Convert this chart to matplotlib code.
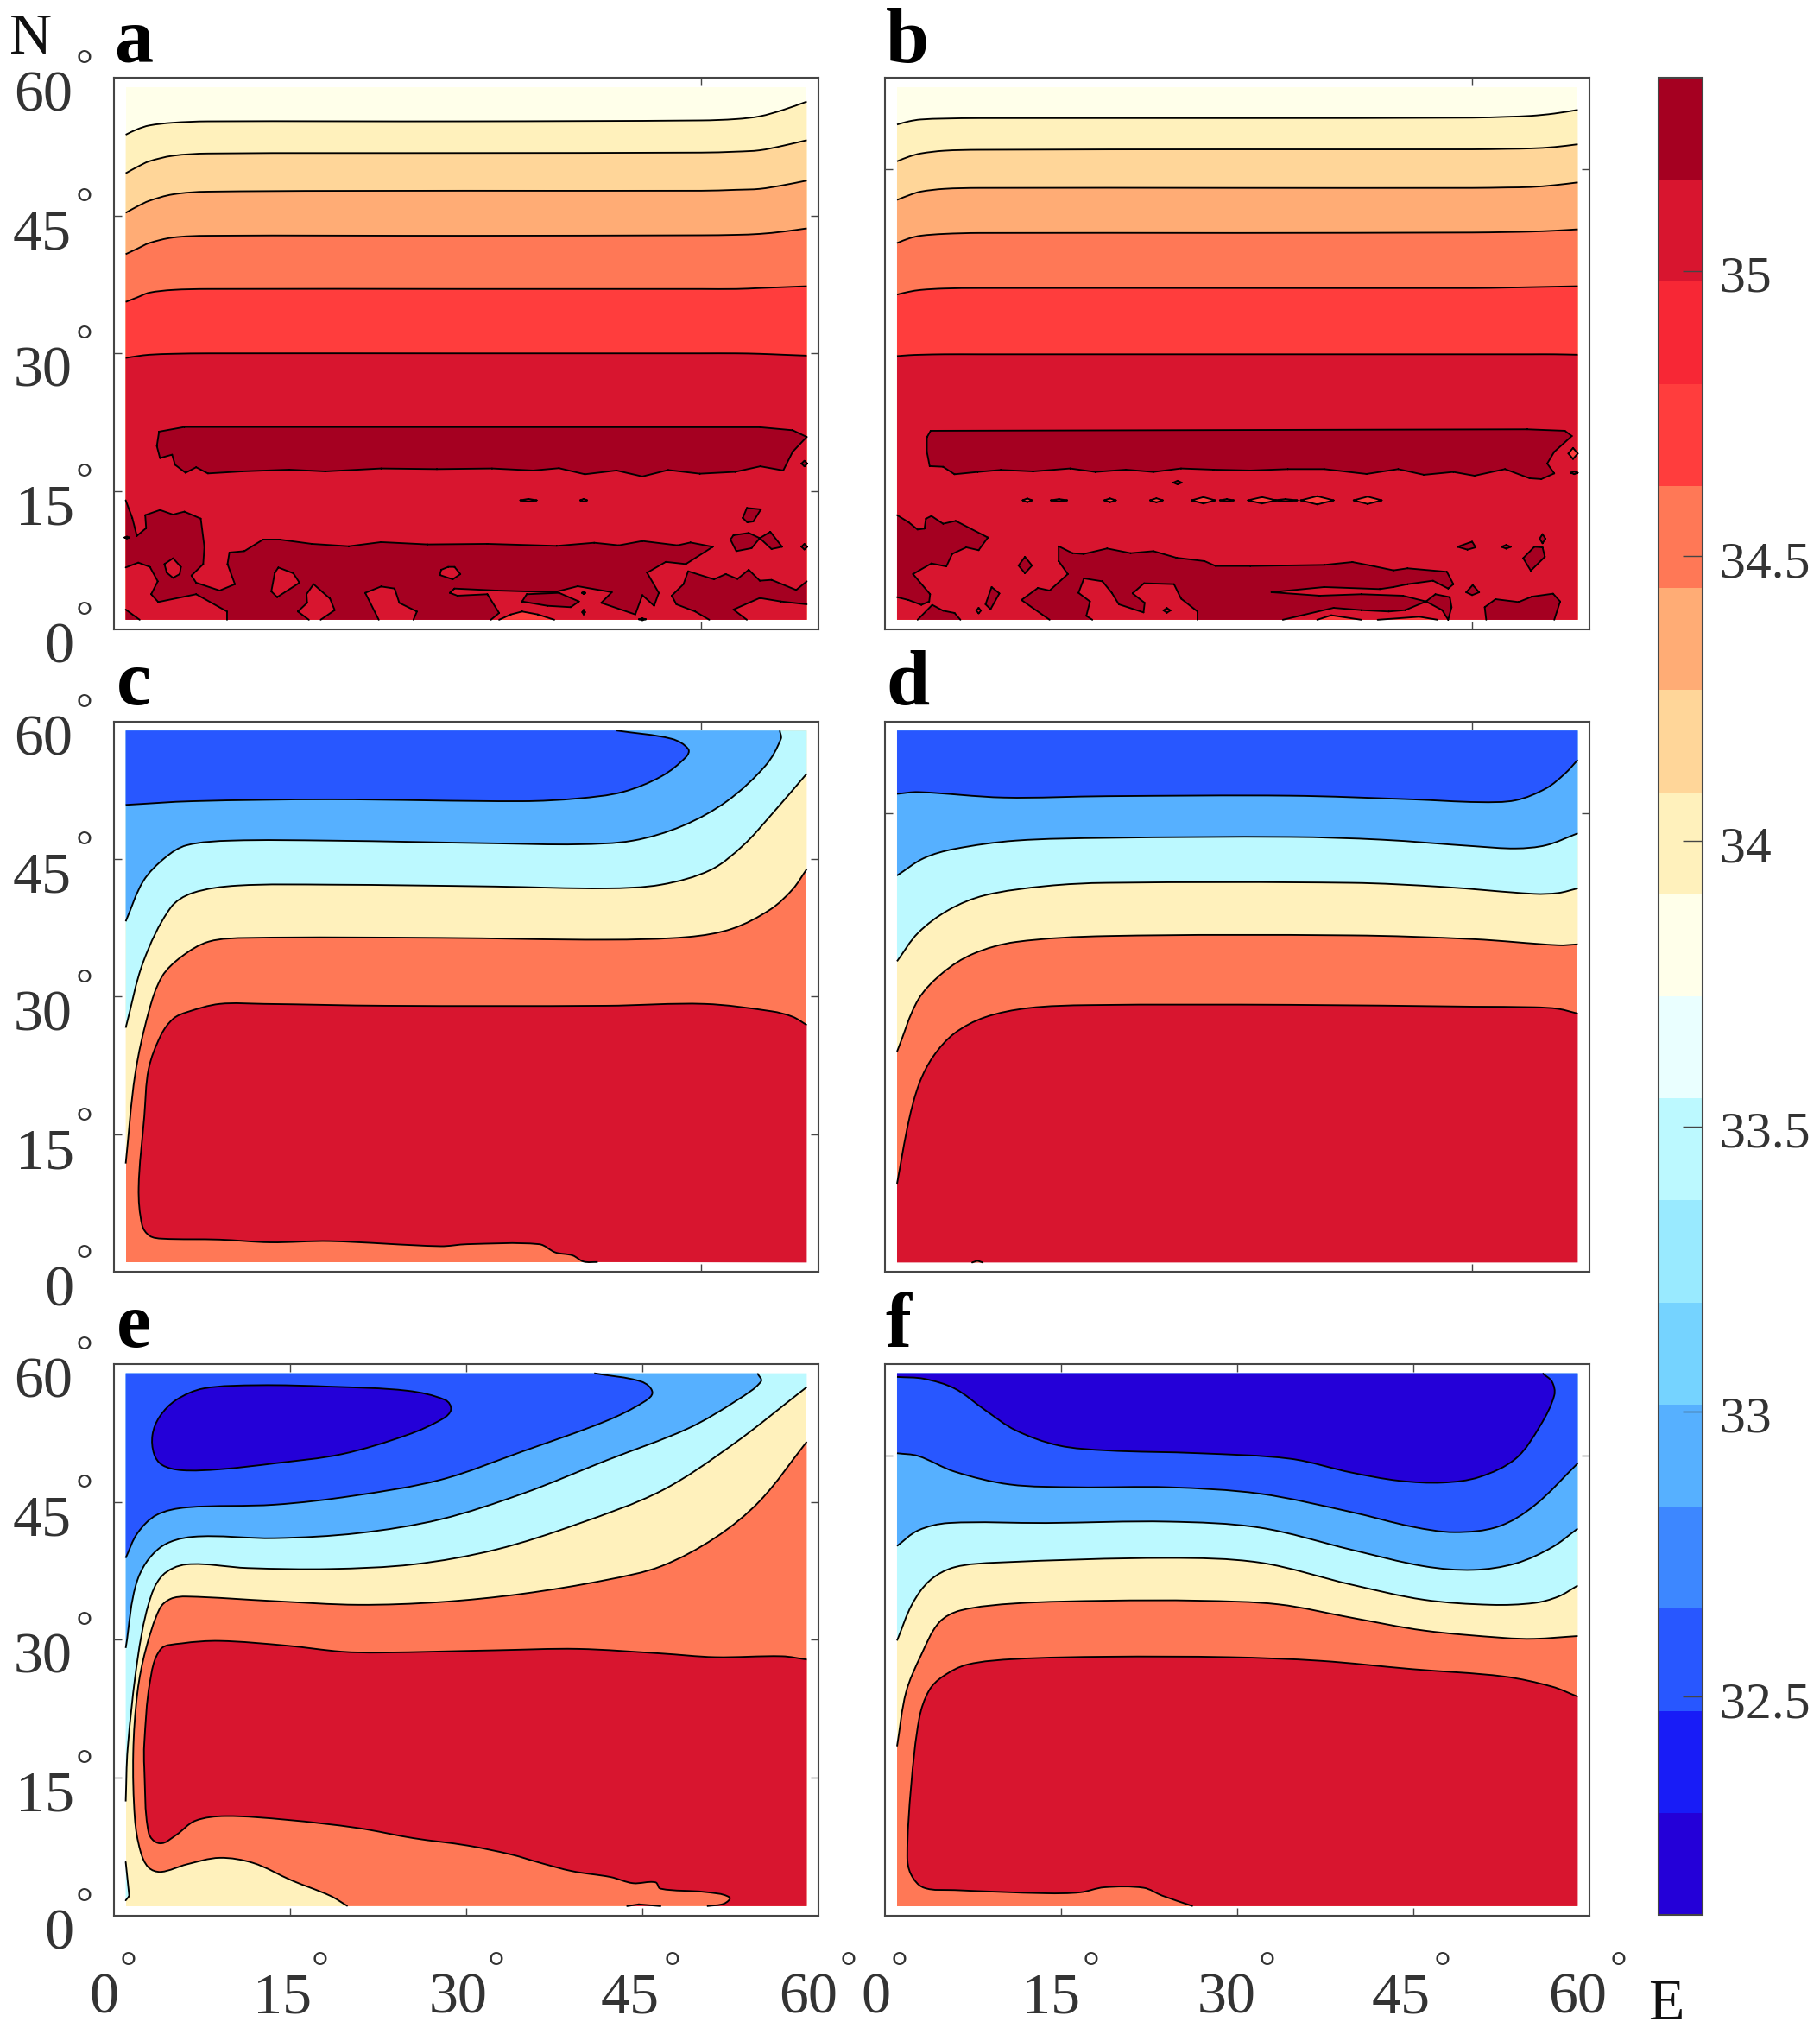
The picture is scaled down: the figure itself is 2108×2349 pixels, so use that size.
import numpy as np
import matplotlib
matplotlib.use("Agg")
import matplotlib.pyplot as plt
from matplotlib.path import Path
from matplotlib.patches import PathPatch
from matplotlib.colors import ListedColormap, BoundaryNorm
from matplotlib.cm import ScalarMappable
from matplotlib.transforms import ScaledTranslation

plt.rcParams['font.family'] = ['Liberation Serif', 'DejaVu Serif']

# ---- colour scale (bottom to top) -------------------------------------
COLORS = ['#2400D8', '#181CF7', '#2857FF', '#3D87FF', '#56B0FF', '#75D3FF',
          '#99EAFF', '#BCF9FF', '#EAFFFF', '#FFFFEA', '#FFF1BC', '#FFD699',
          '#FFAC75', '#FF7856', '#FF3D3D', '#F72735', '#D8152F', '#A50021']
LEVELS = [32.117, 32.296, 32.475, 32.654, 32.833, 33.012, 33.191, 33.370, 33.549,
          33.728, 33.907, 34.086, 34.265, 34.444, 34.623, 34.802, 34.981, 35.160, 35.339]
CB_TICKS = [32.5, 33, 33.5, 34, 34.5, 35]
CB_LABELS = ['32.5', '33', '33.5', '34', '34.5', '35']
DBLUE, BLUE, SKY, CYAN, LYEL, YEL, TAN, PEACH, ORANGE, RED, CRIM, DARK = (
    '#2400D8', '#2857FF', '#56B0FF', '#BCF9FF', '#FFFFEA', '#FFF1BC',
    '#FFD699', '#FFAC75', '#FF7856', '#FF3D3D', '#D8152F', '#A50021')

# ---- panel a : isolines, lat at each lon ------------------------------
BAND_LON = [1, 2, 3, 5, 8, 30, 50, 53, 55, 57, 59]
A_L1 = [53.8, 54.4, 54.8, 55.1, 55.25, 55.25, 55.35, 55.5, 55.8, 56.5, 57.4]
A_L2 = [49.6, 50.3, 50.9, 51.5, 51.75, 51.8, 51.85, 51.95, 52.1, 52.6, 53.2]
A_L3 = [45.3, 46.0, 46.6, 47.3, 47.6, 47.7, 47.7, 47.8, 47.9, 48.3, 48.8]
A_L4 = [40.8, 41.4, 42.0, 42.6, 42.8, 42.8, 42.85, 42.9, 43.0, 43.25, 43.6]
A_L5 = [35.6, 36.1, 36.6, 36.9, 37.0, 37.0, 37.0, 37.0, 37.1, 37.2, 37.3]
A_L6 = [29.5, 29.7, 29.85, 29.95, 30.0, 30.0, 30.0, 30.0, 29.95, 29.85, 29.75]

A_BAND = [(3.84,21.48),(6.0,21.98),(55.05,21.95),(57.8,21.63),(59,20.9),(57.8,19.28),(57,17.25),
          (55.05,17.7),(52.9,17.1),(49.9,16.9),(47.2,17.3),(45,16.6),(42.8,17.25),(40.1,16.84),
          (37.9,17.5),(35.7,17.25),(32.2,17.47),(27.5,17.4),(22.75,17.47),(18,17.15),(14.9,17.34),
          (10.9,17.15),(8,16.93),(7,17.6),(6.1,17),(5.2,17.87),(4.95,18.97),(3.92,18.6),(3.65,19.9)]
A_MAIN = [(1,14.0),(1.56,12.08),(1.95,10.13),(2.74,10.98),(2.66,12.39),(3.92,12.95),(5.03,12.45),
          (6.0,12.77),(7.39,12.01),(7.7,8.94),(7.6,7.06),(6.6,5.81),(7.0,5.03),(9.0,4.18),(10.3,4.87),
          (9.67,7.06),(9.83,8.32),(11.1,8.47),(12.7,9.73),(14.1,9.73),(16.84,9.26),(20,9.0),(22.75,9.45),
          (26.7,9.2),(31.8,9.26),(37.7,9.04),(40.9,9.38),(43,9.1),(45,9.57),(48,9.1),(49.1,9.41),(51,8.94),
          (48.7,7.06),(47,7.3),(45.4,6.12),(46.4,3.93),(46,2.52),(45,3.68),(44.4,1.58),(41.5,2.84),(42.4,4.0),
          (39.5,4.65),(37.5,4.0),(32.6,4.18),(29,4.4),(28.6,3.93),(29.25,3.62),(31.8,3.78),(32.8,1.74),(32.1,1),
          (25.5,1),(25.8,1.9),(24.3,2.84),(23.9,4.4),(22.75,4.62),(21.4,3.93),(22.55,1),(17.6,1),(18.8,2.05),
          (18.4,3.3),(17,4.87),(16.4,3.78),(16.45,2.84),(15.66,1.9),(16.6,1),(9.63,1),(9.63,1.9),(7,3.78),
          (3.77,2.93),(3.17,3.78),(3.73,5.18),(3.06,6.75),(2.07,7.22),(1,6.69)]
A_HOLES = [[(5.03,7.69),(5.7,6.75),(5.6,5.97),(5.03,5.56),(4.5,6.12),(4.3,7.06)],
           [(14,6.69),(15.27,6.06),(15.8,5.03),(13.9,3.46),(13.4,4.09),(13.7,6.12)],
           [(28.46,6.75),(29,6.75),(29.5,5.97),(28.85,5.4),(27.75,5.87),(27.87,6.44)]]
A_BLOBS = [[(1,2.11),(2.19,1),(1,1)],
           [(48.9,6.28),(51.1,5.4),(52.1,5.97),(53.1,5.44),(54.06,6.44),(55,5.25),(56,5.34),(58.1,4.24),
            (59,5.18),(59,2.68),(56.8,2.99),(55,3.37),(52.76,2.11),(53.9,1),(50.7,1),(49.5,1.9),(47.9,2.68),
            (47.5,3.62),(48.5,4.87)],
           [(34.76,2.99),(35.15,3.78),(37.9,3.93),(39.6,2.99),(38.9,2.37),(36.9,2.52)],
           [(53.9,13.17),(55.1,13.02),(54.45,11.7),(53.94,11.6),(53.55,12.08)],
           [(52.76,10.2),(54.06,10.45),(55,9.88),(54.3,8.79),(53,8.47),(52.5,9.73)],
           [(55,9.88),(55.9,10.57),(56.9,8.94),(56,8.7)]]
A_PATCH = [(32.8,1),(33.8,1.58),(34.76,1.9),(36.1,1.58),(37.5,1)]
A_DOTS = [(35.3,14.0,0.7,0.15),(40,14.0,0.3,0.15),(1.1,9.95,0.2,0.1),(40,3.93,0.15,0.12),
          (40,1.83,0.12,0.25),(58.8,18,0.25,0.3),(58.8,8.95,0.25,0.3),(45,1.05,0.3,0.1)]

# ---- panel b ----------------------------------------------------------
B_L1 = [54.9, 55.25, 55.45, 55.55, 55.6, 55.6, 55.65, 55.75, 55.85, 56.1, 56.5]
B_L2 = [50.9, 51.4, 51.75, 52.05, 52.15, 52.2, 52.2, 52.25, 52.3, 52.45, 52.75]
B_L3 = [46.7, 47.2, 47.6, 47.9, 48.0, 48.0, 48.0, 48.05, 48.1, 48.3, 48.6]
B_L4 = [42.0, 42.5, 42.8, 43.0, 43.1, 43.1, 43.15, 43.2, 43.25, 43.35, 43.5]
B_L5 = [36.4, 36.7, 36.9, 37.05, 37.1, 37.1, 37.1, 37.15, 37.2, 37.25, 37.3]
B_L6 = [29.7, 29.8, 29.85, 29.9, 29.9, 29.9, 29.9, 29.9, 29.9, 29.9, 29.85]

B_BAND = [(3.86,21.57),(3.54,20.85),(3.54,19.28),(3.78,17.72),(4.92,17.65),(5.9,16.84),(7.87,17.09),
          (9.84,17.31),(12.6,17.15),(15.75,17.47),(17.9,17.09),(20.5,17.34),(22.84,17.09),(25.2,17.47),
          (27.96,17.34),(31.1,17.25),(34.3,17.4),(37.4,17.4),(41,16.87),(43.7,17.4),(45.9,16.78),(48.4,17.09),
          (50.2,16.68),(52.8,17.4),(54.9,16.4),(55.9,16.31),(57,16.93),(56.4,18),(57,19.28),(58.5,21),
          (57.9,21.57),(54.7,21.73)]
B_LEFT = [(1,12.39),(2,11.6),(2.75,10.82),(3.34,10.92),(3.46,12.0),(3.93,12.3),(4.92,11.45),(6,11.76),
          (8.74,9.95),(7.95,8.57),(6.9,8.88),(5.7,8.17),(5.2,6.8),(3.93,7.13),(2.36,5.97),(3.82,3.78),
          (3.74,2.99),(3.07,2.62),(1.97,3.15),(1,3.46)]
B_MAIN = [(14.77,9.0),(15.95,8.25),(16.9,8.16),(18.9,8.76),(20.9,8.25),(22.84,8.47),(24.8,7.75),(27.2,7.38),
          (28.15,6.85),(31.1,6.85),(37.4,6.97),(39.8,7.28),(41.35,6.9),(43.3,6.38),(44.5,6.6),(47.85,6.22),
          (48.4,4.87),(47.96,4.4),(46.67,5.25),(44.5,4.87),(43.3,4.56),(42.14,4.34),(37.4,4.56),(32.9,4.0),
          (37,3.62),(40.56,3.78),(44.1,3.62),(46.07,2.99),(44.3,2.05),(42.9,1.9),(40.56,2.05),(38.2,2.3),
          (33.87,1),(26.6,1),(26.6,1.9),(25.2,3.3),(24.6,4.87),(22.05,4.97),(21.07,3.87),(22.1,2.84),(22,1.8),
          (19.9,2.68),(19.3,3.93),(18.5,5.18),(16.93,5.5),(16.46,3.93),(17.44,2.99),(17.13,1.43),(17.64,1),
          (14,1),(11.6,3.15),(13,4.46),(14,4.18),(15.55,5.97),(14.77,7.38)]
B_BLOBS = [[(2.75,1),(4,2.62),(4.92,1.99),(5.9,1.74),(6.4,1)],
           [(11.9,7.85),(12.5,6.9),(11.9,6.06),(11.35,6.9)],
           [(9.06,4.56),(9.72,3.87),(8.97,2.15),(8.54,2.68)],
           [(46.07,2.99),(46.87,3.78),(48.1,3.46),(48.25,2.37),(47.96,1),(47.45,2.05)],
           [(51.2,1),(51.07,2.37),(52,3.24),(53.96,2.93),(55.1,3.52),(56.9,3.84),(57.5,2.99),(57,1)],
           [(48.76,8.94),(50,9.5),(50.3,8.88),(49.6,8.63)],
           [(55.3,8.94),(56,8.88),(56.2,7.85),(55,6.34),(54.35,7.7)],
           [(50.05,4.78),(50.6,3.99),(50,3.68),(49.5,3.99)]]
B_PATCHES = [[(36.8,1),(38,1.49),(40.56,1)], [(41.95,1),(45.5,1.33),(47.06,1)]]
B_DARK_DOTS = [(14.8,14.0,0.7,0.13),(29.1,14.0,0.6,0.13),(34.1,14.0,1.0,0.13),(24.9,15.93,0.35,0.2),
               (58.7,17,0.3,0.15),(52.9,8.94,0.4,0.2),(56,9.82,0.25,0.5)]
B_LIGHT_DOTS = [(12.1,14.0,0.4,0.2),(19.15,14.0,0.5,0.2),(23.1,14.0,0.55,0.22),(27.1,14.0,1.0,0.35),
                (32.1,14.0,1.2,0.35),(36.8,14.0,1.4,0.45),(41.1,14.0,1.2,0.4),(58.6,19.1,0.4,0.6)]
B_HOLE_DOTS = [(7.95,2.0,0.2,0.3),(24,2.02,0.3,0.25)]

# ---- panel c ----------------------------------------------------------
C_I1 = [(1,50.9),(6.7,51.3),(18.4,51.5),(34.8,51.3),(39.5,51.6),(43.3,52.3),(46.6,54),(48.7,56.1),
        (48.9,57),(47.5,58.1),(42.8,59)]
C_I2 = [(1,38.2),(2.5,42.6),(4.36,45.15),(6.2,46.5),(10,47),(18.4,47),(32.5,46.7),(39.5,46.6),(44.2,47),
        (48.4,48.6),(52.2,51.3),(55.5,55.2),(56.8,58.1),(56.7,59)]
C_I3 = [(1,26.6),(2.5,33.8),(4.83,39.7),(6.7,41.3),(10.5,42.1),(18.4,42.2),(32.5,42),(41.9,41.8),(46.6,42.2),
        (50.8,43.8),(53.6,46.5),(55.9,49.7),(59,54.3)]
C_I4 = [(1,11.8),(1.8,21.5),(2.95,28.3),(4.1,32.2),(5.8,34.4),(8.1,36),(11.4,36.4),(27.8,36.4),(41.9,36.2),
        (48.9,36.5),(52.65,37.4),(55.9,39.5),(57.8,41.7),(59,43.9)]
C_RED = [(59,26.9),(57.8,27.8),(56,28.4),(50.3,29.2),(41.9,29),(23.1,29),(12.8,29.2),(9,29.2),(6.2,28.3),
         (5.06,27.6),(4,25.8),(2.95,22.1),(2.58,16.9),(2.1,9.16),(2.4,5.06),(3.05,3.9),(4.1,3.6),(9,3.5),
         (13.3,3.2),(18.4,3.33),(27.8,2.78),(30.1,3),(36.2,3),(37.6,2.1),(39.05,1.78),(40,1.1),(41.2,1.05)]

# ---- panel d ----------------------------------------------------------
D_I1 = [(1,52.1),(2.8,52.3),(10.1,51.7),(18.9,51.85),(34.5,51.9),(44.9,51.5),(50.6,51.2),(53.7,51.4),
        (56.3,52.7),(57.9,54.3),(59,55.8)]
D_I2 = [(1,43.2),(3.3,45.1),(5.9,46.1),(11.1,47),(18.9,47.3),(34.5,47.4),(42.3,47.1),(50.1,46.4),(53.7,46.15),
        (56.3,46.5),(59,47.8)]
D_I3 = [(1,33.85),(2.8,36.95),(5.4,39.45),(8.5,41.05),(13.7,42.05),(18.9,42.4),(39.7,42.4),(47.5,41.96),
        (55.3,41.2),(57.35,41.3),(59,41.8)]
D_I4 = [(1,24),(2.8,29.66),(4.9,32.6),(7.5,34.67),(11.1,35.95),(18.9,36.6),(39.7,36.67),(50.1,36.26),
        (57.35,35.6),(59,35.7)]
D_RED = [(1,9.6),(2,16.45),(2.9,20.55),(4.1,23.5),(5.9,26),(8.5,27.75),(12.2,28.75),(17.35,29.07),(34.5,29.1),
         (50.1,28.9),(55.3,28.84),(57.35,28.66),(59,28.15)]
D_BUMP = [(7.4,1),(7.85,1.2),(8.3,1)]

# ---- panel e ----------------------------------------------------------
E_LOW = [(4.13,49),(3.42,50.2),(3.28,52.3),(3.9,54.3),(5.3,56.1),(7.64,57.35),(12.3,57.7),(18.4,57.55),(25,57.1),
         (28.2,56.1),(28.7,55.06),(28,54.05),(25,52.3),(19.4,50.2),(13.7,49.2),(9,48.55),(5.77,48.45)]
E_I1 = [(1,38.9),(2,41.6),(3.66,43.6),(6.2,44.4),(13.7,44.7),(20.3,45.65),(27.8,47.4),(34.8,50.5),(41.9,53.8),
        (45.15,55.9),(45.85,56.95),(44.9,58.1),(40.9,59)]
E_I2 = [(1,29.1),(2,36.5),(3.9,40),(6.7,41.2),(13.7,41.05),(20.8,41.6),(27.8,43.1),(34.8,45.9),(41.9,49.5),
        (48.9,53),(53.1,56.1),(55.1,58.1),(54.8,59)]
E_I3 = [(1,12.4),(1.17,18.2),(2,27.8),(2.95,33.9),(4.13,37),(6.2,38.2),(11.4,37.8),(18.4,37.7),(25.5,38.2),
        (32.5,39.8),(39.5,42.6),(46.6,46.2),(52.65,51.2),(59,57.5)]
E_I4 = [(59,51.55),(55,45.1),(51.2,41.1),(46.6,38),(41.9,36.5),(34.8,35),(27.8,34.1),(20.8,33.8),(13.7,34.2),
        (6.2,34.7),(4.83,34.45),(3.9,33.4),(2.7,28.9),(2,24.3),(1.64,17.7),(1.78,10.5),(2.25,7),(2.95,5.2),
        (4,4.73),(6.2,5.55),(9,6.26),(11.86,5.7),(15.14,3.8),(18.4,2.14),(19.9,1)]
E_RED = [(59,27.84),(56.9,28.2),(51.2,28.1),(46.6,28.5),(39.5,29),(32.5,28.85),(22.6,28.6),(19.4,28.7),(14.7,29.36),
         (9,29.87),(5.77,29.6),(4,29),(3.05,25.3),(2.58,18.7),(2.58,16.1),(2.95,9),(3.9,7.84),(5.3,8.75),(6.94,10.3),
         (9.5,10.8),(14.7,10.4),(20.8,9.5),(25.5,8.4),(30.1,7.6),(33.9,6.6),(36.2,5.75),(39.05,4.8),(42.3,4.17),
         (44.2,3.5),(46.1,3.6),(46.55,2.9),(50.3,2.54),(52.4,1.98),(51.95,1.27),(50.5,1)]
E_PATCH = [(43.7,1),(44.7,1.2),(46.55,1)]
E_EDGE = [(1,5.8),(1.3,2.1),(1,1.63)]

# ---- panel f ----------------------------------------------------------
F_LOW = [(1,58.6),(3.3,58.4),(5.9,57.35),(8.5,55),(11.1,52.8),(14.75,51.15),(18.9,50.6),(26.7,50.3),(34.5,49.7),
         (39.7,48.2),(43.8,47.3),(47.5,47.1),(50.6,47.7),(53.7,49.7),(55.8,53.3),(57,56.6),(56.8,58.1),(56,59)]
F_I1 = [(1,50.3),(2.8,50),(5.9,48.3),(10.6,46.9),(16.3,46.6),(24.1,46.6),(31.9,45.9),(39.7,43.9),(44.9,42.3),
        (48.5,41.7),(52.2,42.3),(55.3,44.6),(59,49.2)]
F_I2 = [(1,40.2),(2.8,41.9),(5.4,42.7),(13.7,42.7),(24.1,42.85),(31.9,42.2),(39.7,39.8),(45.9,38),(50.1,37.6),
        (53.7,38.3),(56.8,40.05),(59,42.1)]
F_I3 = [(1,29.9),(2.3,33.9),(3.84,36.5),(5.92,37.9),(9.56,38.4),(24.1,38.9),(31.9,38.4),(39.7,36),(45.9,34.35),
        (51.6,33.8),(55.3,34),(57.35,34.7),(59,35.9)]
F_I4 = [(1,18.4),(1.77,24.3),(3.06,28.35),(4.6,31.9),(6.44,33.2),(11.1,33.95),(18.9,34.25),(26.7,34.25),(33.5,33.85),
        (39.7,32.4),(45.9,31),(52.7,30.2),(55.3,30.1),(59,30.4)]
F_RED = [(59,23.8),(56.8,24.9),(52.7,26),(44.9,26.8),(37.1,27.7),(29.3,28.1),(18.9,28.15),(11.1,27.9),(7,27.3),
         (4.9,26),(3.74,24.5),(2.9,21.5),(2.2,14.1),(1.87,6.46),(2.2,4.43),(3.3,3),(5.9,2.75),(13.7,2.4),(16.6,2.5),
         (18.65,3.05),(22,3),(23.6,2.14),(26.2,1)]

# ---- figure -----------------------------------------------------------
W, H = 2108, 2349
fig = plt.figure(figsize=(W / 100, H / 100), dpi=100, facecolor='white')
FRAME = '#454545'
LW = 1.35


def add_ax(L, T, R, B):
    return fig.add_axes([L / W, 1 - B / H, (R - L) / W, (B - T) / H])


def txt(x, y, s, size, **kw):
    kw.setdefault('ha', 'center')
    kw.setdefault('va', 'baseline')
    fig.text(x / W, 1 - y / H, s, fontsize=size, **kw)


def curve(points, closed=False):
    P = np.asarray(points, float)
    n = len(P)
    T = np.zeros_like(P)
    for i in range(n):
        if closed:
            v = P[(i + 1) % n] - P[i - 1]
        else:
            v = P[min(i + 1, n - 1)] - P[max(i - 1, 0)]
        T[i] = v / max(np.hypot(*v), 1e-9)
    verts, codes = [P[0]], [Path.MOVETO]
    last = n if closed else n - 1
    for i in range(last):
        j = (i + 1) % n
        d = np.hypot(*(P[j] - P[i]))
        verts += [P[i] + T[i] * d / 3, P[j] - T[j] * d / 3, P[j]]
        codes += [Path.CURVE4] * 3
    return verts, codes


def smooth_region(ax, points, color, closure=(), closed=False):
    verts, codes = curve(points, closed)
    fv = list(verts) + [np.array(c, float) for c in closure] + [verts[0]]
    fc = list(codes) + [Path.LINETO] * len(closure) + [Path.CLOSEPOLY]
    ax.add_patch(PathPatch(Path(fv, fc), facecolor=color, edgecolor='none', lw=0))
    ax.add_patch(PathPatch(Path(verts, codes), facecolor='none', edgecolor='k', lw=LW))


def on_edge(a, b):
    return ((a[0] == b[0] and a[0] in (1, 59)) or (a[1] == b[1] and a[1] in (1, 59)))


def poly(ax, points, color):
    xs, ys = zip(*points)
    ax.fill(xs, ys, color=color, lw=0)
    n = len(points)
    lx, ly = [], []
    for i in range(n):
        a, b = points[i], points[(i + 1) % n]
        if not on_edge(a, b):
            lx += [a[0], b[0], np.nan]
            ly += [a[1], b[1], np.nan]
    ax.plot(lx, ly, color='k', lw=LW, solid_joinstyle='round', solid_capstyle='round')


def dots(ax, items, color):
    for x, y, dx, dy in items:
        poly(ax, [(x - dx, y), (x, y + dy), (x + dx, y), (x, y - dy)], color)


def base(ax, color):
    ax.fill([1, 59, 59, 1], [1, 1, 59, 59], color=color, lw=0)


def band_panel(ax, lines, colors):
    base(ax, LYEL)
    for line, color in zip(lines, colors):
        smooth_region(ax, list(zip(BAND_LON, line)), color, closure=[(59, 1), (1, 1)])


def above(ax, points, color):
    closure = [(59, 59), (1, 59)] if points[-1][1] < 59 else [(1, 59)]
    smooth_region(ax, points, color, closure=closure)


COLS = [(132, 948), (1025.4, 1841)]
ROWS = [(90, 728.5), (835.6, 1473), (1580, 2218.5)]
axes = {}
for r, (T, B) in enumerate(ROWS):
    for c, (L, R) in enumerate(COLS):
        ax = add_ax(L, T, R, B)
        ax.set_xlim(0, 60)
        ax.set_ylim(0, 60)
        ax.set_xticks([15, 30, 45] if r == 2 else [50])
        ax.set_yticks([15, 30, 45] if c == 0 else [50])
        ax.tick_params(direction='in', length=6.6, width=1.0, color=FRAME, top=True, right=True,
                       labelbottom=False, labelleft=False)
        for s in ax.spines.values():
            s.set_color(FRAME)
            s.set_linewidth(1.5)
        axes['abcdef'[r * 2 + c]] = ax

band_colors = [YEL, TAN, PEACH, ORANGE, RED, CRIM]

# a
ax = axes['a']
band_panel(ax, [A_L1, A_L2, A_L3, A_L4, A_L5, A_L6], band_colors)
poly(ax, A_BAND, DARK)
poly(ax, A_MAIN, DARK)
for h in A_HOLES:
    poly(ax, h, CRIM)
for b in A_BLOBS:
    poly(ax, b, DARK)
poly(ax, A_PATCH, RED)
dots(ax, A_DOTS, DARK)

# b
ax = axes['b']
band_panel(ax, [B_L1, B_L2, B_L3, B_L4, B_L5, B_L6], band_colors)
poly(ax, B_BAND, DARK)
poly(ax, B_LEFT, DARK)
poly(ax, B_MAIN, DARK)
for b in B_BLOBS:
    poly(ax, b, DARK)
for p in B_PATCHES:
    poly(ax, p, RED)
dots(ax, B_LIGHT_DOTS, RED)
dots(ax, B_DARK_DOTS, DARK)
dots(ax, B_HOLE_DOTS, CRIM)

# c
ax = axes['c']
base(ax, ORANGE)
smooth_region(ax, C_RED, CRIM, closure=[(59, 1)])
above(ax, C_I4, YEL)
above(ax, C_I3, CYAN)
above(ax, C_I2, SKY)
above(ax, C_I1, BLUE)

# d
ax = axes['d']
base(ax, ORANGE)
smooth_region(ax, D_RED, CRIM, closure=[(59, 1), (1, 1)])
poly(ax, D_BUMP, ORANGE)
above(ax, D_I4, YEL)
above(ax, D_I3, CYAN)
above(ax, D_I2, SKY)
above(ax, D_I1, BLUE)

# e
ax = axes['e']
base(ax, YEL)
smooth_region(ax, E_I4, ORANGE, closure=[(59, 1)])
smooth_region(ax, E_RED, CRIM, closure=[(59, 1)])
poly(ax, E_PATCH, CRIM)
poly(ax, E_EDGE, CYAN)
above(ax, E_I3, CYAN)
above(ax, E_I2, SKY)
above(ax, E_I1, BLUE)
smooth_region(ax, E_LOW, DBLUE, closed=True)

# f
ax = axes['f']
base(ax, ORANGE)
smooth_region(ax, F_RED, CRIM, closure=[(59, 1)])
above(ax, F_I4, YEL)
above(ax, F_I3, CYAN)
above(ax, F_I2, SKY)
above(ax, F_I1, BLUE)
smooth_region(ax, F_LOW, DBLUE, closure=[(1, 59)])

# colour bar
cax = add_ax(1921, 90, 1972, 2218)
cb = fig.colorbar(ScalarMappable(norm=BoundaryNorm(LEVELS, len(COLORS)), cmap=ListedColormap(COLORS)),
                  cax=cax, spacing='proportional', ticks=CB_TICKS, drawedges=False)
cb.set_ticklabels(CB_LABELS)
cb.minorticks_off()
cb.outline.set_edgecolor(FRAME)
cb.outline.set_linewidth(1.5)
cax.tick_params(axis='y', direction='in', length=16.5, width=1.0, color=FRAME, pad=14.5,
                labelsize=43, labelcolor='#333333')
shift = ScaledTranslation(0, -3.5 / 100, fig.dpi_scale_trans)
for lab in cax.get_yticklabels():
    lab.set_transform(lab.get_transform() + shift)

# tick labels
NUM = dict(color='#333333')
FS = 49
LAT_TEXT = ['60', '45', '30', '15', '0']
LAT_X = [50, 49, 50, 52, 68]
LON_TEXT = ['0', '15', '30', '45', '60']
LON_X = [[120, 327, 531, 730, 936], [1014, 1217, 1421, 1623, 1827]]
LON_DEG_X = [[148.6, 371, 574.6, 778.7, 983], [1042, 1263.6, 1468, 1671, 1875]]
DEG = '\u00b0'
for (T, B) in ROWS:
    for i, (s, x) in enumerate(zip(LAT_TEXT, LAT_X)):
        yc = T + 15.7 + 159.6 * i
        txt(x, yc + 23, s, FS, **NUM)
        txt(97.6, yc - 41 + 26.5, DEG, 36, **NUM)
for xs, dxs in zip(LON_X, LON_DEG_X):
    for s, x, dx in zip(LON_TEXT, xs, dxs):
        txt(x, 2332, s, FS, **NUM)
        txt(dx, 2268 + 26.5, DEG, 36, **NUM)

# panel letters
for name, x, y in [('a', 155, 72), ('b', 1051, 72), ('c', 155, 816), ('d', 1051, 816),
                   ('e', 155, 1560), ('f', 1040, 1560)]:
    txt(x, y, name, 65, fontweight='bold', color='k')
txt(36, 62, 'N', FS, color='#111111')
txt(1930, 2339, 'E', FS, color='#111111')

fig.savefig('out.png', dpi=100, facecolor='white')
